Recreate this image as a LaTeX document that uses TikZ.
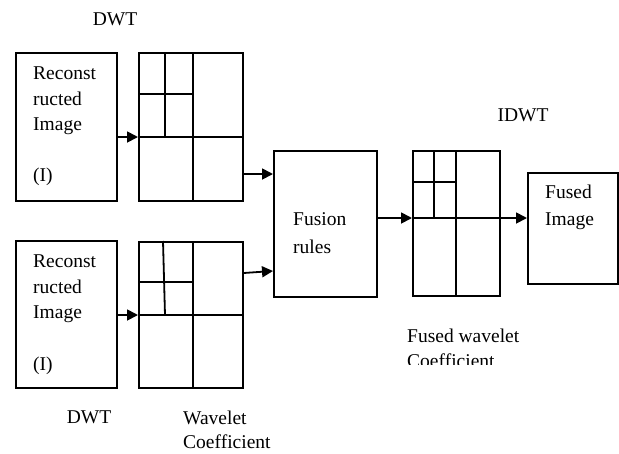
\documentclass[tikz,border=0pt]{standalone}
\usepackage{fontspec}
\setmainfont{Liberation Serif}
\usetikzlibrary{arrows.meta}
\begin{document}
\begin{tikzpicture}[x=1pt,y=-1pt,
  box/.style={draw,line width=1.8pt,anchor=north west,inner sep=0pt},
  grid/.style={line width=1.8pt},
  arr/.style={line width=1.8pt,-{Triangle[length=11pt,width=11pt]}},
  lbl/.style={anchor=base west,inner sep=0pt,font=\fontsize{19.5}{21}\selectfont},
  lblc/.style={anchor=base,inner sep=0pt,font=\fontsize{19.5}{21}\selectfont}]
\useasboundingbox (0,0) rectangle (619,453);

% source images
\node[box,minimum width=101pt,minimum height=148pt] (img1) at (15,52) {};
\node[box,minimum width=101pt,minimum height=147pt] (img2) at (15,240) {};

% wavelet coefficient grids
\node[box,minimum width=104pt,minimum height=148pt] (g1) at (138,52) {};
\node[box,minimum width=104pt,minimum height=146pt] (g2) at (138,241) {};
\draw[grid] (165,52) -- (165,137) (193,52) -- (193,200)
            (138,94) -- (193,94) (138,137) -- (242,137);
\draw[grid] (163,241) -- (165,315) (193,241) -- (193,387)
            (138,282) -- (193,282) (138,315) -- (242,315);

% fusion and output
\node[box,minimum width=103pt,minimum height=146pt] (fus) at (273,150) {};
\node[box,minimum width=87pt,minimum height=145pt] (g3) at (412,150) {};
\draw[grid] (434,150) -- (434,218) (456,150) -- (456,295)
            (412,182) -- (456,182) (412,218) -- (499,218);
\node[box,minimum width=90pt,minimum height=111pt] (out) at (527,172) {};

% connectors
\draw[arr] (img1.east |- {(0,137)}) -- (g1.west |- {(0,137)});
\draw[arr] (img2.east |- {(0,315)}) -- (g2.west |- {(0,315)});
\draw[arr] (g1.east |- {(0,174)}) -- (fus.west |- {(0,174)});
\draw[arr] (g2.east |- {(0,273)}) -- (fus.west |- {(0,271)});
\draw[arr] (fus.east |- {(0,218)}) -- (g3.west |- {(0,218)});
\draw[arr] (g3.east |- {(0,218)}) -- (out.west |- {(0,218)});

% box texts
\node[lbl] (t1a) at (33,79) {Reconst};
\node[lbl] (t1b) at (33,105) {ructed};
\node[lbl] (t1c) at (33,130) {Image};
\node[lbl] (t1d) at (33,181) {(I)};
\node[lbl] (t2a) at (33,267) {Reconst};
\node[lbl] (t2b) at (33,293) {ructed};
\node[lbl] (t2c) at (33,318) {Image};
\node[lbl] (t2d) at (33,370) {(I)};
\node[lbl] (tf1) at (293,225) {Fusion};
\node[lbl] (tf2) at (293,253) {rules};
\node[lbl] (to1) at (545,198) {Fused};
\node[lbl] (to2) at (545,225) {Image};

% captions
\node[lblc] (dwt1) at (115,25) {DWT};
\node[lblc] (dwt2) at (89,423) {DWT};
\node[lblc] (idwt) at (523,121) {IDWT};
\node[lbl] (wc1) at (183,424) {Wavelet};
\node[lbl] (wc2) at (183,448) {Coefficient};
\node[lbl] (fw1) at (407,342) {Fused wavelet};
\begin{scope}
  \clip (400,340) rectangle (560,364);
  \node[lbl] (fw2) at (407,367) {Coefficient};
\end{scope}
\end{tikzpicture}
\end{document}
